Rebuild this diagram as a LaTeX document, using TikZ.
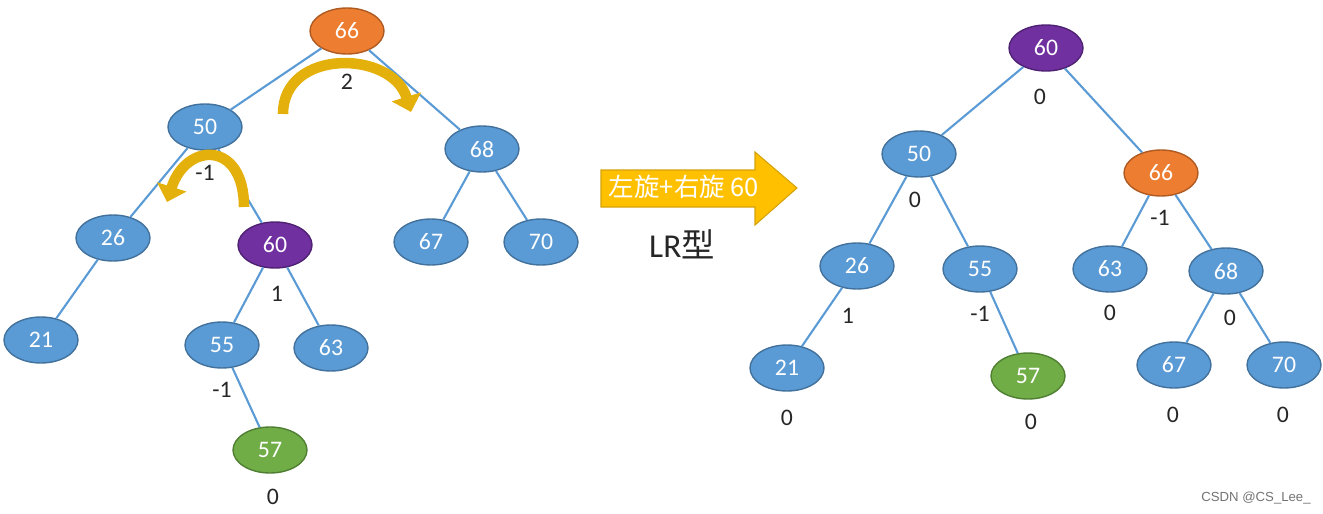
\documentclass[tikz,border=0pt]{standalone}
\usepackage{fontspec}
\setmainfont{Carlito}
\newfontfamily\cjkfont{Noto Sans CJK SC}
\newfontfamily\markfont{Liberation Sans}
\usetikzlibrary{arrows.meta, shapes.geometric}

\definecolor{keyblue}{HTML}{5B9BD5}
\definecolor{keyline}{HTML}{41719C}
\definecolor{keyorange}{HTML}{ED7D31}
\definecolor{orangeline}{HTML}{AE5A21}
\definecolor{keypurple}{HTML}{7030A0}
\definecolor{purpleline}{HTML}{4E2173}
\definecolor{keygreen}{HTML}{70AD47}
\definecolor{greenline}{HTML}{507E32}
\definecolor{rotgold}{HTML}{FFC000}
\definecolor{rotdark}{HTML}{D4A20A}
\definecolor{turngold}{HTML}{E4B10C}

\begin{document}
\begin{tikzpicture}[
		x=0.02cm, y=-0.02cm,
		key/.style={ellipse, draw=keyline, fill=keyblue, line width=0.8pt, minimum width=1.48cm, minimum height=0.92cm, inner sep=0pt, text=white, font=\fontsize{13.5}{15}\selectfont},
		orangekey/.style={key, fill=keyorange, draw=orangeline},
		purplekey/.style={key, fill=keypurple, draw=purpleline},
		greenkey/.style={key, fill=keygreen, draw=greenline},
		bal/.style={text=black!85, font=\fontsize{13.5}{15}\selectfont},
		link/.style={draw=keyblue, line width=1.2pt},
		turn/.style={draw=turngold, line width=6pt, -{Triangle[width=17pt,length=9pt]}}
		]
		\useasboundingbox (0,0) rectangle (1323,514);
		% tree before rotation
		\node[orangekey] (a66) at (347,31) {66};
		\node[key] (a50) at (205,127) {50};
		\node[key] (a68) at (482,149) {68};
		\node[key] (a26) at (113,238) {26};
		\node[purplekey] (a60) at (275,245) {60};
		\node[key] (a67) at (431,242) {67};
		\node[key] (a70) at (541,242) {70};
		\node[key] (a21) at (41,340) {21};
		\node[key] (a55) at (222,345) {55};
		\node[key] (a63) at (331,348) {63};
		\node[greenkey] (a57) at (270,450) {57};
		\path[link]
		(a66) edge (a50) (a66) edge (a68) (a50) edge (a26) (a50) edge (a60)
		(a68) edge (a67) (a68) edge (a70) (a26) edge (a21) (a60) edge (a55)
		(a60) edge (a63) (a55) edge (a57);
		\node[bal] (fa66) at (347,82) {2};
		\node[bal] (fa50) at (205,173) {-1};
		\node[bal] (fa60) at (277,294) {1};
		\node[bal] (fa55) at (222,390) {-1};
		\node[bal] (fa57) at (273,497) {0};
		\draw[turn] (283,114) .. controls (283,48) and (392,50) .. (411,112);
		\draw[turn] (244,207) .. controls (244,140) and (186,142) .. (167,202);

		% rotation arrow
		\path[fill=rotgold, draw=rotdark, line width=0.6pt]
		(601,170) -- (755,170) -- (755,152) -- (797,188) -- (755,225) -- (755,207) -- (601,207) -- cycle;
		\node[text=white, font=\cjkfont\fontsize{14.5}{16}\selectfont] (rot) at (684,187) {左旋+右旋 60};
		\node[text=black!85, font=\fontsize{19}{22}\selectfont] (kind) at (682,244) {LR{\cjkfont 型}};

		% tree after rotation
		\node[purplekey] (b60) at (1046,48) {60};
		\node[key] (b50) at (919,154) {50};
		\node[orangekey] (b66) at (1161,173) {66};
		\node[key] (b26) at (857,266) {26};
		\node[key] (b55) at (980,269) {55};
		\node[key] (b63) at (1110,269) {63};
		\node[key] (b68) at (1226,271) {68};
		\node[key] (b21) at (787,368) {21};
		\node[greenkey] (b57) at (1028,376) {57};
		\node[key] (b67) at (1174,365) {67};
		\node[key] (b70) at (1284,365) {70};
		\path[link]
		(b60) edge (b50) (b60) edge (b66) (b50) edge (b26) (b50) edge (b55)
		(b66) edge (b63) (b66) edge (b68) (b26) edge (b21) (b55) edge (b57)
		(b68) edge (b67) (b68) edge (b70);
		\node[bal] (fb60) at (1040,97) {0};
		\node[bal] (fb50) at (915,200) {0};
		\node[bal] (fb66) at (1160,218) {-1};
		\node[bal] (fb26) at (848,316) {1};
		\node[bal] (fb55) at (980,314) {-1};
		\node[bal] (fb63) at (1110,313) {0};
		\node[bal] (fb68) at (1230,318) {0};
		\node[bal] (fb21) at (787,418) {0};
		\node[bal] (fb57) at (1031,422) {0};
		\node[bal] (fb67) at (1173,415) {0};
		\node[bal] (fb70) at (1283,415) {0};

		\node[text=black!55, font=\markfont\fontsize{7.5}{9}\selectfont] (mark) at (1256,498) {CSDN @CS\_Lee\_};
	\end{tikzpicture}
\end{document}
